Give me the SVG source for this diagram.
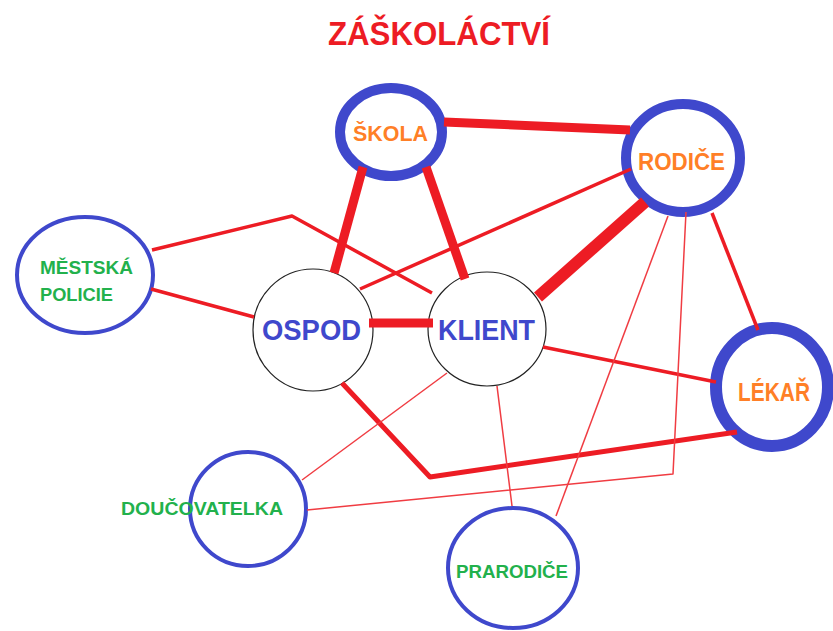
<svg xmlns="http://www.w3.org/2000/svg" width="833" height="631" viewBox="0 0 833 631">
<style>
  text { font-family: "Liberation Sans", Arial, sans-serif; font-weight: bold; }
  .ring { fill: none; stroke: #3f48cc; }
  .thin-ring { fill: none; stroke: #3f48cc; stroke-width: 4; }
  .black { fill: none; stroke: #222; stroke-width: 1.2; }
  .org { fill: #ff7f27; }
  .grn { fill: #22b14c; }
  .blu { fill: #3f48cc; }
  .c { fill: none; stroke: #ed1c24; stroke-linejoin: round; }
  .w1 { stroke-width: 1.5; stroke: #f03c42; }
  .w3 { stroke-width: 3.5; }
  .w5 { stroke-width: 5; }
  .w9 { stroke-width: 9; }
  .w12 { stroke-width: 12; }
</style>
<rect width="833" height="631" fill="#fff"/>
<text x="328" y="45" font-size="33" fill="#ed1c24" textLength="222" lengthAdjust="spacingAndGlyphs">ZÁŠKOLÁCTVÍ</text>

<g id="skola">
  <ellipse class="ring" cx="391" cy="132" rx="51" ry="44" stroke-width="10"/>
  <text class="org" x="353" y="141" font-size="22" textLength="75" lengthAdjust="spacingAndGlyphs">ŠKOLA</text>
</g>
<g id="rodice">
  <ellipse class="ring" cx="683" cy="158" rx="57" ry="54" stroke-width="10"/>
  <text class="org" x="638" y="170" font-size="23" textLength="87" lengthAdjust="spacingAndGlyphs">RODIČE</text>
</g>
<g id="mestska-policie">
  <ellipse class="thin-ring" cx="85" cy="275" rx="68" ry="58"/>
  <text class="grn" x="40" y="274" font-size="19" textLength="93" lengthAdjust="spacingAndGlyphs">MĚSTSKÁ</text>
  <text class="grn" x="40" y="301" font-size="19" textLength="73" lengthAdjust="spacingAndGlyphs">POLICIE</text>
</g>
<g id="ospod">
  <ellipse class="black" cx="313" cy="330" rx="60" ry="61"/>
  <text class="blu" x="262" y="340" font-size="29" textLength="99" lengthAdjust="spacingAndGlyphs">OSPOD</text>
</g>
<g id="klient">
  <ellipse class="black" cx="487" cy="329" rx="59" ry="57"/>
  <text class="blu" x="438" y="340" font-size="29" textLength="97" lengthAdjust="spacingAndGlyphs">KLIENT</text>
</g>
<g id="lekar">
  <ellipse class="ring" cx="772" cy="387" rx="56" ry="59" stroke-width="12"/>
  <text class="org" x="738" y="401" font-size="25" textLength="72" lengthAdjust="spacingAndGlyphs">LÉKAŘ</text>
</g>
<g id="doucovatelka">
  <ellipse class="thin-ring" cx="248" cy="509" rx="58" ry="57"/>
  <text class="grn" x="121" y="515" font-size="19" textLength="162" lengthAdjust="spacingAndGlyphs">DOUČOVATELKA</text>
</g>
<g id="prarodice">
  <ellipse class="thin-ring" cx="513" cy="568" rx="65" ry="60"/>
  <text class="grn" x="456" y="578" font-size="19" textLength="112" lengthAdjust="spacingAndGlyphs">PRARODIČE</text>
</g>

<g id="connectors">
  <line class="c w9" x1="444" y1="122" x2="630" y2="130"/>
  <line class="c w9" x1="363" y1="167" x2="334" y2="273"/>
  <line class="c w9" x1="426" y1="167" x2="465" y2="279"/>
  <line class="c w12" x1="645" y1="202" x2="538" y2="297"/>
  <line class="c w9" x1="369" y1="323" x2="433" y2="323"/>
  <line class="c w3" x1="712" y1="213" x2="758" y2="330"/>
  <line class="c w3" x1="631" y1="169" x2="360" y2="289"/>
  <polyline class="c w3" points="152,250 292,216 432,293"/>
  <line class="c w3" x1="151" y1="289" x2="254" y2="317"/>
  <line class="c w3" x1="543" y1="347" x2="716" y2="382"/>
  <polyline class="c w5" points="342,383 430,477 737,432"/>
  <line class="c w1" x1="447" y1="373" x2="302" y2="480"/>
  <line class="c w1" x1="497" y1="386" x2="512" y2="506"/>
  <line class="c w1" x1="668" y1="216" x2="556" y2="516"/>
  <polyline class="c w1" points="686,212 673,474 307,510"/>
</g>
</svg>
